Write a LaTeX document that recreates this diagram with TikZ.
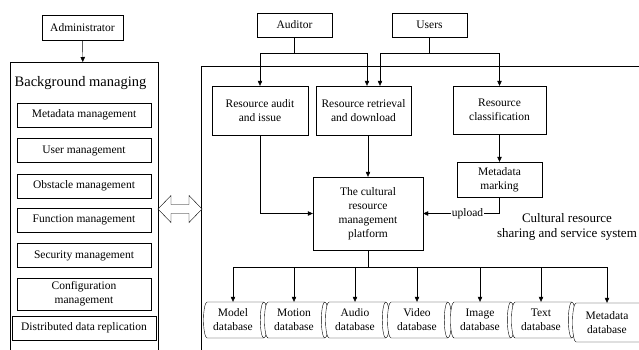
\documentclass[tikz,border=0pt]{standalone}
\usepackage{fontspec}
\setmainfont{Liberation Serif}
\usetikzlibrary{arrows.meta,positioning,shapes.geometric}

\begin{document}
\begin{tikzpicture}[x=1pt, y=-1pt, >={Triangle[length=5pt,width=4.5pt]},
    font=\fontsize{11.5}{14}\selectfont,
    box/.style={draw, fill=white, align=center, inner sep=1pt},
    mgr/.style={box, minimum width=134, minimum height=24},
    db/.style={cylinder, draw, fill=white, aspect=0.3, align=center,
      minimum height=64, minimum width=36, inner sep=1pt}]
    \useasboundingbox (0,0) rectangle (639,349);
    \clip (0,0) rectangle (639,349);

    % background managing side
    \node[box, minimum width=81, minimum height=25] (admin) at (82.5,28) {Administrator};
    \node[draw, anchor=north, minimum width=148, minimum height=300] (bg) at (84,62) {};
    \node[font=\fontsize{14.5}{16}\selectfont] (bgtitle) at (80.5,83) {Background managing};
    \node[mgr] (metamgr) at (84,115) {Metadata management};
    \node[mgr] (usermgr) at (84,150.5) {User management};
    \node[mgr] (obstmgr) at (84,186) {Obstacle management};
    \node[mgr] (funcmgr) at (84,220) {Function management};
    \node[mgr] (secmgr) at (84,255.5) {Security management};
    \node[mgr, minimum height=32] (confmgr) at (84,294) {Configuration\\management};
    \node[mgr, minimum width=144] (distrep) at (84,328) {Distributed data replication};
    \draw[->] (admin) -- (bg);

    % sharing and service system
    \node[draw, anchor=north west, minimum width=500, minimum height=300] (sys) at (201,66) {};
    \node[box, minimum width=75, minimum height=24] (auditor) at (294.5,25) {Auditor};
    \node[box, minimum width=75, minimum height=24] (users) at (429.5,25) {Users};
    \node[box, minimum width=96, minimum height=49] (audit) at (260,110.5) {Resource audit\\and issue};
    \node[box, minimum width=95, minimum height=49] (retr) at (363.5,110.5) {Resource retrieval\\and download};
    \node[box, minimum width=93, minimum height=48] (classif) at (499.5,110) {Resource\\classification};
    \node[box, minimum width=85, minimum height=35] (marking) at (499.5,179.5) {Metadata\\marking};
    \node[box, minimum width=110, minimum height=73] (platform) at (368,213.5)
      {The cultural\\resource\\management\\platform};
    \node[align=center, font=\fontsize{13}{15}\selectfont] (systitle) at (567,226.5)
      {Cultural resource\\sharing and service system};

    \draw (auditor.south) -- ++(0,16) coordinate (aj);
    \draw[->] (aj) -| (audit.north);
    \draw[->] (aj) -| ([xshift=3.5]retr.north);
    \draw (users.south) -- ++(0,16) coordinate (uj);
    \draw[->] (uj) -| ([xshift=16.5]retr.north);
    \draw[->] (uj) -| (classif.north);
    \draw[->] (classif) -- (marking);
    \draw[->] (platform.north |- retr.south) -- (platform.north);
    \draw[->] (audit.south) |- (platform.west);
    \draw[->] (marking.south) |- node[pos=0.71, fill=white, inner sep=1pt] {upload} (platform.east);

    % double arrow between the two parts
    \draw[fill=white] (158,209) -- (171,195.5) -- (171,204.5) -- (189,204.5) -- (189,195.5)
      -- (202,209) -- (189,222.5) -- (189,213.5) -- (171,213.5) -- (171,222.5) -- cycle;

    % databases
    \foreach \n/\x/\t in {model/233/Model, motion/294/Motion, audio/355/Audio,
        video/417/Video, image/480/Image, textdb/541/Text}
      \node[db] (\n) at (\x,320) {\t\\database};
    \node[db, minimum height=74, minimum width=39] (metadb) at (607,322.5) {Metadata\\database};

    \draw (platform.south) -- ++(0,16.5) coordinate (bus);
    \foreach \n in {model,motion,audio,video,image,textdb,metadb}
      \draw[->] (bus) -| (\n.north);
\end{tikzpicture}
\end{document}
